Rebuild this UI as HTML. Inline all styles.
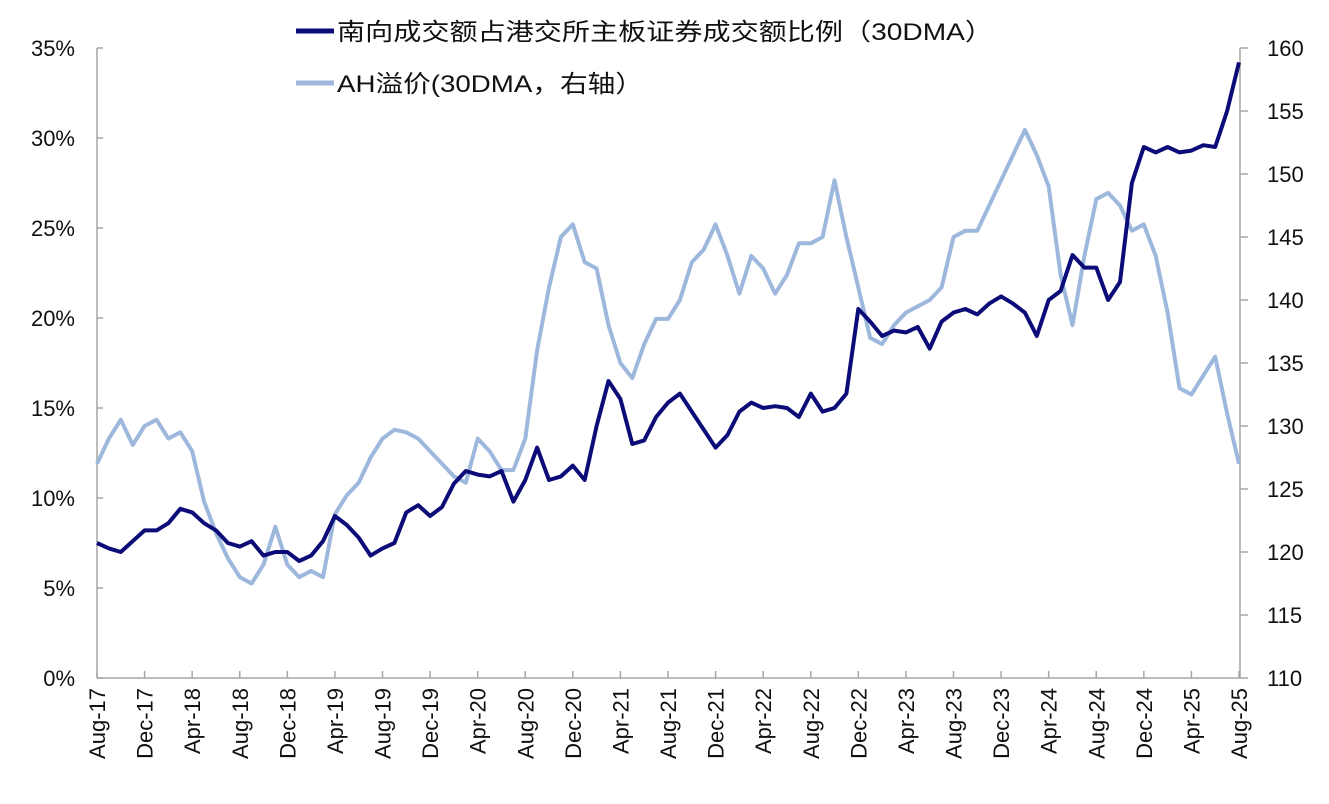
<!DOCTYPE html>
<html><head><meta charset="utf-8">
<style>
body{margin:0;background:#fff;}
svg{display:block;font-family:"Liberation Sans","Noto Sans CJK SC",sans-serif;}
</style></head>
<body>
<svg id="chart" width="1329" height="804" xmlns="http://www.w3.org/2000/svg">
<g id="axes"></g>
<g id="series"></g>
<g id="legend">
  <line x1="296" y1="31" x2="334" y2="31" stroke="#0c0c78" stroke-width="5"/>
  <text x="337" y="40" font-size="24" textLength="656" lengthAdjust="spacingAndGlyphs" fill="#111">南向成交额占港交所主板证券成交额比例（30DMA）</text>
  <line x1="296" y1="83" x2="334" y2="83" stroke="#9db8dc" stroke-width="5"/>
  <text x="337" y="92" font-size="24" textLength="306" lengthAdjust="spacingAndGlyphs" fill="#111">AH溢价(30DMA，右轴）</text>
</g>
</svg>
<script>
const xTickLabels=["Aug-17","Dec-17","Apr-18","Aug-18","Dec-18","Apr-19","Aug-19","Dec-19","Apr-20","Aug-20","Dec-20","Apr-21","Aug-21","Dec-21","Apr-22","Aug-22","Dec-22","Apr-23","Aug-23","Dec-23","Apr-24","Aug-24","Dec-24","Apr-25","Aug-25"];
const leftTicks=[0,5,10,15,20,25,30,35];
const rightTicks=[110,115,120,125,130,135,140,145,150,155,160];
const southboundShare=[7.5,7.2,7.0,7.6,8.2,8.2,8.6,9.4,9.2,8.6,8.2,7.5,7.3,7.6,6.8,7.0,7.0,6.5,6.8,7.6,9.0,8.5,7.8,6.8,7.2,7.5,9.2,9.6,9.0,9.5,10.8,11.5,11.3,11.2,11.5,9.8,11.0,12.8,11.0,11.2,11.8,11.0,14.0,16.5,15.5,13.0,13.2,14.5,15.3,15.8,14.8,13.8,12.8,13.5,14.8,15.3,15.0,15.1,15.0,14.5,15.8,14.8,15.0,15.8,20.5,19.8,19.0,19.3,19.2,19.5,18.3,19.8,20.3,20.5,20.2,20.8,21.2,20.8,20.3,19.0,21.0,21.5,23.5,22.8,22.8,21.0,22.0,27.5,29.5,29.2,29.5,29.2,29.3,29.6,29.5,31.5,34.2];
const ahPremium=[127,129,130.5,128.5,130,130.5,129,129.5,128,124,121.5,119.5,118,117.5,119,122,119,118,118.5,118,123,124.5,125.5,127.5,129,129.7,129.5,129,128,127,126,125.5,129,128,126.5,126.5,129,136,141,145,146,143,142.5,138,135,133.8,136.5,138.5,138.5,140,143,144,146,143.5,140.5,143.5,142.5,140.5,142,144.5,144.5,145,149.5,145,141,137,136.5,138,139,139.5,140,141,145,145.5,145.5,147.5,149.5,151.5,153.5,151.5,149,142,138,143.5,148,148.5,147.5,145.5,146,143.5,139,133,132.5,134,135.5,131,127];

const NS="http://www.w3.org/2000/svg";
const X0=97,X1=1239,Y0=678,Y1=48;
const nMonths=southboundShare.length;
function xAt(i){return X0+(X1-X0)*i/(nMonths-1);}
function yL(v){return Y0-(Y0-Y1)*v/35;}
function yR(v){return Y0-(Y0-Y1)*(v-110)/50;}
function mk(tag,attrs,parent){const e=document.createElementNS(NS,tag);for(const k in attrs)e.setAttribute(k,attrs[k]);parent.appendChild(e);return e;}
const axes=document.getElementById('axes');
const ser=document.getElementById('series');
const AX="#a6a6a6";
let a=mk('line',{x1:X0,y1:Y1,x2:X0,y2:Y0,stroke:AX,'stroke-width':1.5},axes);


a=mk('line',{x1:X1+1,y1:Y1,x2:X1+1,y2:Y0,stroke:AX,'stroke-width':1.5},axes);


a=mk('line',{x1:X0,y1:Y0,x2:X1+1,y2:Y0,stroke:AX,'stroke-width':1.5},axes);


leftTicks.forEach(v=>{
  const y=yL(v);
  const t=mk('line',{x1:X0,y1:y,x2:X0+6,y2:y,stroke:AX,'stroke-width':1.5},axes);
  
  
  const l=mk('text',{x:75,y:y+8,'font-size':22,'text-anchor':'end',fill:'#111'},axes);
  l.textContent=v+'%';
  
  
});
rightTicks.forEach(v=>{
  const y=yR(v);
  const t=mk('line',{x1:X1+1,y1:y,x2:X1+9,y2:y,stroke:AX,'stroke-width':1.5},axes);
  
  
  const l=mk('text',{x:1267,y:y+8,'font-size':22,fill:'#111'},axes);
  l.textContent=v;
  
  
});
xTickLabels.forEach((s,k)=>{
  const x=xAt(k*4);
  const t=mk('line',{x1:x,y1:Y0,x2:x,y2:Y0-7,stroke:AX,'stroke-width':1.5},axes);
  
  
  const l=mk('text',{x:0,y:0,'font-size':22,'text-anchor':'end',fill:'#111',transform:`translate(${x+8},${Y0+10}) rotate(-90)`},axes);
  l.textContent=s;
  
  
});
let p=mk('path',{d:ahPremium.map((v,i)=>(i?'L':'M')+xAt(i).toFixed(1)+','+yR(v).toFixed(1)).join(''),fill:'none',stroke:'#9db8dc','stroke-width':4,'stroke-linejoin':'round'},ser);


p=mk('path',{d:southboundShare.map((v,i)=>(i?'L':'M')+xAt(i).toFixed(1)+','+yL(v).toFixed(1)).join(''),fill:'none',stroke:'#0c0c78','stroke-width':4,'stroke-linejoin':'round'},ser);


</script>
</body></html>
